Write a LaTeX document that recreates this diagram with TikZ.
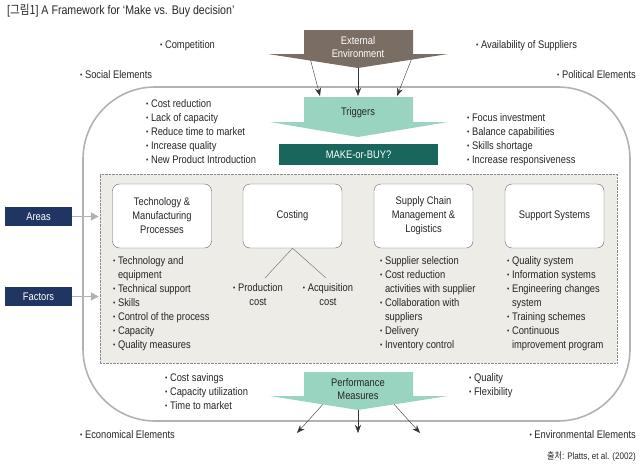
\documentclass[tikz,border=0pt]{standalone}
\usepackage{fontspec}
\setmainfont{Liberation Sans}[FakeStretch=0.85]
\newfontfamily\krfont{Noto Sans CJK KR}[FakeStretch=0.85]
\usetikzlibrary{arrows.meta}

\definecolor{extbrown}{HTML}{7A6D64}
\definecolor{trigteal}{HTML}{99D4C0}
\definecolor{maketeal}{HTML}{19665C}
\definecolor{areanavy}{HTML}{213563}
\definecolor{panelgrey}{HTML}{EDECE7}
\definecolor{framegrey}{HTML}{B2B2B2}
\definecolor{inkgrey}{HTML}{262626}

\newcommand\bul{{\fontsize{7.5}{7.5}\selectfont\raisebox{0.8pt}{\textbullet}}\ }
\newcommand\ind{\hphantom{\bul}}

\tikzset{
  txt/.style = {font=\fontsize{11}{14}\selectfont, inner sep=0pt, align=left, text=inkgrey},
  areabox/.style = {draw=black!60, fill=white, rounded corners=7pt, minimum width=99pt,
                    minimum height=64pt, align=center, text=inkgrey, font=\fontsize{11}{14}\selectfont},
  tagbox/.style = {fill=areanavy, text=white, minimum width=67pt, minimum height=19pt,
                   inner sep=0pt, font=\fontsize{11}{13}\selectfont},
  blk/.style = {-{Stealth[length=8pt,width=6pt]}, black!80, thin},
  greyarrow/.style = {-{Triangle[length=8pt,width=8pt]}, black!30, line width=1.5pt, shorten >=1pt}
}

\begin{document}
\begin{tikzpicture}[x=1pt, y=-1pt]
\useasboundingbox (0,0) rectangle (640,466);

% title
\node[anchor=north west, inner sep=0pt, text=inkgrey, font=\fontsize{12.5}{15}\selectfont] (title)
   at (7,4) {[{\krfont 그림1}] A Framework for `Make vs. Buy decision'};

% outer frame
\draw[framegrey, line width=1.6pt, rounded corners=72pt] (83,87) rectangle (630,421);

% outside elements
\node[txt, anchor=north west] (comp) at (160,40) {\bul Competition};
\node[txt, anchor=north west] (avail) at (476,40) {\bul Availability of Suppliers};
\node[txt, anchor=north west] (social) at (80,70) {\bul Social Elements};
\node[txt, anchor=north east] (polit) at (636,70) {\bul Political Elements};
\node[txt, anchor=north west] (econ) at (80,430) {\bul Economical Elements};
\node[txt, anchor=north east] (envir) at (636,430) {\bul Environmental Elements};

% external environment -> triggers
\foreach \sx/\ex [count=\i] in {310/320, 358/358, 412/397}{
   \coordinate (src\i) at (\sx,58);
   \coordinate (dst\i) at (\ex,96);
   \draw[blk] (src\i) -- (dst\i);
   }
\fill[extbrown] (304,30) -- (413,30) -- (413,54) -- (448,54) -- (358,68) -- (268,54) -- (304,54) -- cycle;
\node[white, align=center, font=\fontsize{11}{12.5}\selectfont] (ext) at (358,47) {External\\Environment};

\fill[trigteal] (304,97) -- (413,97) -- (413,122) -- (448,122) -- (358,137) -- (270,122) -- (304,122) -- cycle;
\node[text=inkgrey, font=\fontsize{11}{13}\selectfont] (trig) at (358,113) {Triggers};

\node[fill=maketeal, text=white, minimum width=159pt, minimum height=21pt, inner sep=0pt,
      font=\fontsize{11}{13}\selectfont] (mob) at (358.5,154.5) {MAKE-or-BUY?};

\node[txt, anchor=north west] (why) at (146,99)
   {\bul Cost reduction\\\bul Lack of capacity\\\bul Reduce time to market\\\bul Increase quality\\\bul New Product Introduction};
\node[txt, anchor=north west] (gain) at (467,113)
   {\bul Focus investment\\\bul Balance capabilities\\\bul Skills shortage\\\bul Increase responsiveness};

% areas and factors
\node[draw=black!45, densely dotted, fill=panelgrey, minimum width=517pt, minimum height=189pt,
      inner sep=0pt] (panel) at (358.5,268.5) {};

\node[areabox] (tech) at (162,216) {Technology \&\\Manufacturing\\Processes};
\node[areabox] (cost) at (292.5,216) {Costing};
\node[areabox] (scm) at (423.5,216) {Supply Chain\\Management \&\\Logistics};
\node[areabox] (supp) at (554.5,216) {Support Systems};

\node[txt, anchor=north west] (techf) at (113,256)
   {\bul Technology and\\\ind equipment\\\bul Technical support\\\bul Skills\\\bul Control of the process\\\bul Capacity\\\bul Quality measures};
\node[txt, align=center, anchor=north] (prod) at (258,283) {\bul Production\\cost};
\node[txt, align=center, anchor=north] (acq) at (328,283) {\bul Acquisition\\cost};
\draw[black!60] (cost.south) -- ([xshift=7pt,yshift=5pt]prod.north);
\draw[black!60] (cost.south) -- ([xshift=-2pt,yshift=5pt]acq.north);
\node[txt, anchor=north west] (scmf) at (380,256)
   {\bul Supplier selection\\\bul Cost reduction\\\ind activities with supplier\\\bul Collaboration with\\\ind suppliers\\\bul Delivery\\\bul Inventory control};
\node[txt, anchor=north west] (suppf) at (507,256)
   {\bul Quality system\\\bul Information systems\\\bul Engineering changes\\\ind system\\\bul Training schemes\\\bul Continuous\\\ind improvement program};

\node[tagbox] (areas) at (38.5,216.5) {Areas};
\node[tagbox] (factors) at (38.5,296.5) {Factors};
\draw[greyarrow] (areas) -- (areas -| panel.west);
\draw[greyarrow] (factors) -- (factors -| panel.west);

% performance measures
\foreach \sx/\ex [count=\i] in {325/297, 358/358, 392/420}{
   \coordinate (pm\i) at (\sx,402);
   \coordinate (out\i) at (\ex,433);
   \draw[blk] (pm\i) -- (out\i);
   }
\fill[trigteal] (304,372) -- (413,372) -- (413,396) -- (448,396) -- (358,410) -- (270,396) -- (304,396) -- cycle;
\node[text=inkgrey, align=center, font=\fontsize{11}{13}\selectfont] (perf) at (358,389) {Performance\\Measures};

\node[txt, anchor=north west] (save) at (165,373) {\bul Cost savings\\\bul Capacity utilization\\\bul Time to market};
\node[txt, anchor=north west] (qual) at (469,373) {\bul Quality\\\bul Flexibility};

% source
\node[anchor=north east, inner sep=0pt, text=inkgrey, font=\fontsize{9.5}{11}\selectfont] (src)
   at (636,451) {{\krfont 출처}: Platts, et al. (2002)};
\end{tikzpicture}
\end{document}
